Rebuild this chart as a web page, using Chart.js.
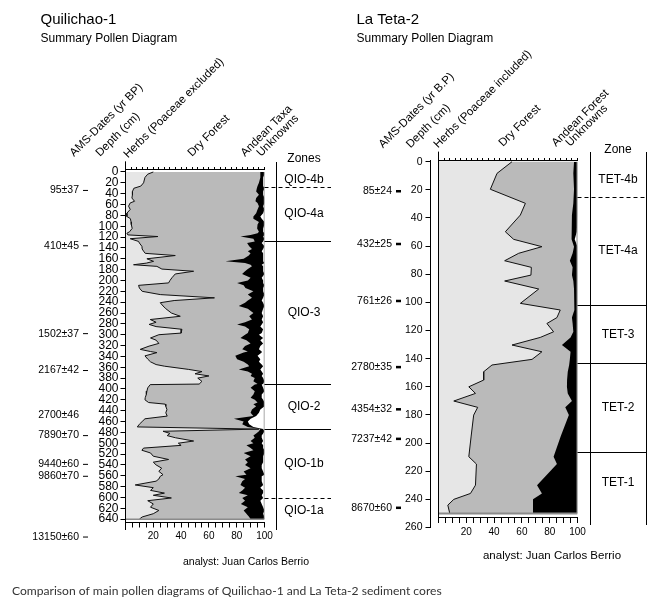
<!DOCTYPE html>
<html><head><meta charset="utf-8">
<script src="https://cdn.jsdelivr.net/npm/chart.js@4"></script>
<style>
html,body{margin:0;padding:0;background:#fff;}
#wrap{position:relative;width:666px;height:605px;overflow:hidden;}
canvas{position:absolute;left:0;top:0;}
</style></head><body>
<div id="wrap">
<canvas id="cL" width="666" height="605" style="width:666px;height:605px"></canvas>
<canvas id="cR" width="666" height="605" style="width:666px;height:605px"></canvas>
</div>
<script>
// ---------------- DATA: Quilichao-1 ----------------
const qDepth = [0,4,10,20,26,30,36,42,48,54,
57,63,69,76,82,86,92,97,104,110,
113,116,119,123,128,131,137,142,146,150,
154,160,164.7,168,171,174,179,183,188,195,
200,204.5,209,214,220,226,232,237,241,247,
252,260,266,272,277,281,285,290,297,300,
306,310,316,321,327,331,333,339,345,350,
355,358,364,368,372,376,380,386,391,392,
398,404,410,416,420,425,428,432,438,444,
450,455,460,465,470,474,478,482,486,490,
496,500,504,509,513,518,524,530,535,540,
546,552,558,561,566,570,577,582,587,592,
596,601,606,612,618,624,630,636,640];
const qHerbs = [20,16,14,13,11,6,5,5,4.6,6.5,
3.4,2.2,3.4,1,1,3.5,4,4.2,4.8,3,
1,1.7,23.3,3.4,9.4,10,11.8,12,13,14.2,
35.8,15.4,20.2,15,5.8,22.6,26.2,49,35.8,33.4,
32,31,9.4,10,12,25,64,35,25,27,
29,33,39.4,17.8,22,17,22,40.6,40,24,
18,22,24,17,10.6,18,22.6,14,16,18,
22,28,45.5,55,50,60,52,55,53,17.8,
16,15.4,15,14.2,14,16.6,28.6,29,29.8,29,
30,14,12,10,8.5,96,27,32,30,36,
49,38,40,13,11.8,18,20,31,20,22,
26,24,27,25,24,22,7,20,18,28,
20,33,16,20,18,24,20,12,10];
const qDryForest = [77,81,83,83,84,88.5,89,91,89.4,87,
91.6,93.8,91.6,93,91,88.5,92,90.8,89.9,93,
94,88.3,59.4,88.6,83.6,77.5,77.2,79,75,75.8,
52.9,69.6,51.7,71,84.2,68.4,61.8,37,48.1,56.6,
56,49.3,75.6,76.3,80,63,27,53,61,54.5,
59,59,49.6,73.2,64,63.3,64,48.4,48,62,
64.7,65,66,69,73.4,70,62.4,65,64.3,67,
66,61,36,33,41,30,41,37,42,75.2,
74,77.6,77,75.8,79,78.4,63.4,65,61.2,61,
62,64,73,74,79.5,1,69,62,62,57,
41,54,47,77,80.2,67,70,55,68,64,
64,61,60,54,62,62,75.7,66,66,53.5,
68,51,70,63,70,61,67,77,80];
const qAndean = [3,3,2,3,4,5.5,5,3,6,6.5,
5,3,5,5,5,6,4,5,4.3,3,
5,10,16.3,8,6,10.5,11,8,10,9,
10.3,14,27.1,14,8,8,11,13,16.1,8,
11,18.7,15,12.7,7,12,8,10,13,18.5,
11,6,10,7,13,17.7,11,10,10,10,
16.3,10,9,11,12,10,13,16,16.7,11,
10,10,15.5,10,8,8,6,8,4,5,
9,7,6,8,6,5,8,6,6,6,
2,12,3,5,4,2,4,5,6,5,
9,6,12,9,8,15,9,13,11,12,
8,14,13,19,12,14,16.3,11,15,17.5,
10,15,11,15,11,15,12,11,10];
const qZoneBounds = [28.2,127.1,391.2,474.1,601.2];
const qZoneDashed = [true,false,false,false,true];
const qZoneNames = ['QIO-4b','QIO-4a','QIO-3','QIO-2','QIO-1b','QIO-1a'];
const qDates = ['95±37','410±45','1502±37','2167±42','2700±46','7890±70','9440±60','9860±70','13150±60'];
const qDateDepths = [34,136,298,366,449,486,539,561,673];
const qDateMarked = [true,true,true,true,false,true,true,true,true];
const qDepthTicks = [0,20,40,60,80,100,120,140,160,180,200,220,240,260,280,300,320,340,360,380,400,420,440,460,480,500,520,540,560,580,600,620,640];
const qHeaders = ['AMS-Dates (yr BP)','Depth (cm)','Herbs (Poaceae excluded)','Dry Forest','Andean Taxa','Unknowns'];

// ---------------- DATA: La Teta-2 ----------------
const tDepth = [0,8.3,19.6,29.6,37.9,49.8,55.2,60.4,65.1,70.4,75.1,80.6,84.8,90.5,100.7,105.4,110.8,115,120.9,124.9,130.3,135.1,140.5,144.5,149.3,155.2,160,164.7,170.1,174.6,180.1,195,209.7,214.9,229.9,235.8,240,244.1,250];
const tHerbs = [52.9,42.1,37.3,62.5,58.9,48.1,54.1,74.4,57.7,47.6,66.8,66.5,47.6,72.1,58.9,87.6,85.2,78,82.8,73.2,52.9,74.4,67.3,38.5,32.5,32.5,21.8,26.6,11,28.2,25.3,23.5,21.8,27.3,26.6,23,11,6.7,8.1];
const tDryForest = [44.6,54.9,60.2,34.5,37.1,47.4,41.9,23.1,38.8,46.9,29.7,29.5,49.4,25.4,39.1,9.9,10.8,18.5,14.2,21.8,35.9,20.6,27.2,55.5,60.5,60,70.6,66.4,85,63,68.5,64.5,61,57.9,44.3,51.4,57,61.3,59.9];
const tAndean = [2.5,3,2.5,3,4,4,2,2.5,3.5,5.5,3.5,4,3,2.5,2,2.5,4,3.5,3,5,11.2,5,5.5,6,7,7.5,7.6,7,4,8.8,6.2,12,17.2,14.8,29.1,25.6,32,32,32];
const tZoneBounds = [25.3,101.9,143.4,206.2];
const tZoneDashed = [true,false,false,false];
const tZoneNames = ['TET-4b','TET-4a','TET-3','TET-2','TET-1'];
const tDates = ['85±24','432±25','761±26','2780±35','4354±32','7237±42','8670±60'];
const tDateDepths = [21,58.5,99,146,176,197,246];
const tDateMarked = [true,true,true,true,true,true,true];
const tDepthTicks = [0,20,40,60,80,100,120,140,160,180,200,220,240,260];
const tHeaders = ['AMS-Dates (yr B.P)','Depth (cm)','Herbs (Poaceae included)','Dry Forest','Andean Forest','Unknowns'];

// ---------------- shared ticks ----------------
const pctTicks = [0,5,10,15,20,25,30,35,40,45,50,55,60,65,70,75,80,85,90,95,100];
const pctLabels = [20,40,60,80,100];
const topTicks = [0,4,8,12,16,20,24,28,32,36,40,44,48,52,56,60,64,68,72,76,80,84,88,92,96,100];

Chart.defaults.font.family = "'Liberation Sans', Arial, Helvetica, sans-serif";
Chart.defaults.color = '#000';

function edges(h, d, a) {
  const e1 = h.slice();
  const e2 = h.map((v, i) => v + d[i]);
  const e3 = e2.map((v, i) => v + a[i]);
  return [e1, e2, e3];
}
function pts(depth, vals) { return depth.map((d, i) => ({x: vals[i], y: d})); }

function profileDatasets(depth, h, d, a, bottomDepth, extTop, extBottom, frameW) {
  const [e1, e2, e3] = edges(h, d, a);
  return [
    {label: 'Herbs', data: pts(depth, e1), fill: 'origin', backgroundColor: '#e6e6e6', borderColor: '#111', borderWidth: 1},
    {label: 'Dry Forest', data: pts(depth, e2), fill: 'origin', backgroundColor: '#bababa', borderColor: 'rgba(0,0,0,0)', borderWidth: 1},
    {label: 'Andean', data: pts(depth, e3), fill: 'origin', backgroundColor: '#000', borderColor: 'rgba(0,0,0,0)', borderWidth: 1},
    {label: 'edgeR', data: [{x: 100, y: depth[0]}, {x: 100, y: bottomDepth}], borderColor: '#8a8a8a', borderWidth: frameW, fill: false, order: -1},
    {label: 'edgeB', data: [{x: 0, y: bottomDepth}, {x: 100, y: bottomDepth}], borderColor: '#8a8a8a', borderWidth: frameW, fill: false, order: -1},
    {label: 'edgeL', data: [{x: 0, y: extTop}, {x: 0, y: extBottom}], borderColor: '#000', borderWidth: 1, fill: false, clip: false, order: -2}
  ];
}

function setTicks(arr) { return s => { s.ticks = arr.map(v => ({value: v})); }; }

function drawPanel(chart, P) {
  const ctx = chart.ctx, ys = chart.scales.y;
  const px = v => ys.getPixelForValue(v);
  ctx.save();
  ctx.fillStyle = '#000';
  ctx.strokeStyle = '#000';
  ctx.textAlign = 'left'; ctx.textBaseline = 'alphabetic';
  ctx.font = "15px 'Liberation Sans', Arial, sans-serif";
  ctx.fillText(P.title, P.titleX, 23.5);
  ctx.font = "12px 'Liberation Sans', Arial, sans-serif";
  ctx.fillText('Summary Pollen Diagram', P.titleX, 42);
  ctx.font = "11.5px 'Liberation Sans', Arial, sans-serif";
  P.headers.forEach((s, i) => {
    const [x, y] = P.headerPos[i];
    ctx.save(); ctx.translate(x, y); ctx.rotate(-Math.PI / 4); ctx.fillText(s, 0, 0); ctx.restore();
  });
  ctx.lineWidth = 1; ctx.setLineDash([]);
  P.colLines.forEach(x => { ctx.beginPath(); ctx.moveTo(x, P.colTop); ctx.lineTo(x, P.colBottom); ctx.stroke(); });
  P.zoneBounds.forEach((b, i) => {
    const y = Math.round(px(b)) + 0.5;
    ctx.setLineDash(P.zoneDashed[i] ? [4, 3] : []);
    ctx.beginPath(); ctx.moveTo(P.zoneX0, y); ctx.lineTo(P.zoneX1, y); ctx.stroke();
  });
  ctx.setLineDash([]);
  ctx.font = "12px 'Liberation Sans', Arial, sans-serif";
  ctx.textAlign = 'center'; ctx.textBaseline = 'middle';
  ctx.fillText(P.zoneHeader, P.zoneLabelX, P.zoneHeaderY);
  const e = [0].concat(P.zoneBounds, [P.zoneBottom]);
  P.zoneNames.forEach((n, i) => {
    ctx.fillText(n, P.zoneLabelX, (px(e[i]) + px(e[i + 1])) / 2);
  });
  ctx.font = "10.5px 'Liberation Sans', Arial, sans-serif";
  ctx.textAlign = 'right'; ctx.textBaseline = 'middle';
  P.dates.forEach((s, i) => {
    const y = px(P.dateDepths[i]);
    ctx.fillText(s, P.dateRight, y);
    if (P.dateMarked[i]) ctx.fillRect(P.dashX0, y - P.dashH / 2, P.dashX1 - P.dashX0, P.dashH);
  });
  ctx.textAlign = 'center'; ctx.textBaseline = 'alphabetic';
  ctx.font = P.analystFont;
  ctx.fillText('analyst: Juan Carlos Berrio', P.analystX, P.analystY);
  if (P.caption) {
    ctx.textAlign = 'left';
    ctx.fillStyle = '#333';
    ctx.font = "12.1px Lato, 'Open Sans', sans-serif";
    ctx.fillText(P.caption, 12, 595);
  }
  ctx.restore();
}

const leftP = {
  title: 'Quilichao-1', titleX: 40.5, headers: qHeaders,
  headerPos: [[74, 157], [100, 157], [128, 158.5], [192, 157], [245, 157], [261, 157]],
  colLines: [276.5], colTop: 162, colBottom: 530,
  zoneBounds: qZoneBounds, zoneDashed: qZoneDashed, zoneNames: qZoneNames,
  zoneX0: 264.5, zoneX1: 331, zoneLabelX: 304, zoneHeader: 'Zones', zoneHeaderY: 159, zoneBottom: 646,
  dates: qDates, dateDepths: qDateDepths, dateMarked: qDateMarked,
  dateRight: 79, dashX0: 83, dashX1: 88, dashH: 1,
  analystFont: "10.5px 'Liberation Sans', Arial, sans-serif", analystX: 246, analystY: 565,
  caption: 'Comparison of main pollen diagrams of Quilichao-1 and La Teta-2 sediment cores'
};
const rightP = {
  title: 'La Teta-2', titleX: 356.5, headers: tHeaders,
  headerPos: [[383, 148.5], [410.5, 148.5], [438, 148.5], [503, 147], [556, 147], [570, 147]],
  colLines: [590.5, 646.5], colTop: 152, colBottom: 525,
  zoneBounds: tZoneBounds, zoneDashed: tZoneDashed, zoneNames: tZoneNames,
  zoneX0: 577.5, zoneX1: 646.5, zoneLabelX: 618, zoneHeader: 'Zone', zoneHeaderY: 150, zoneBottom: 250,
  dates: tDates, dateDepths: tDateDepths, dateMarked: tDateMarked,
  dateRight: 392, dashX0: 396, dashX1: 401, dashH: 2.5,
  analystFont: "11.5px 'Liberation Sans', Arial, sans-serif", analystX: 552, analystY: 559,
  caption: null
};

const axisCommon = {
  grid: {drawOnChartArea: false, color: '#000', lineWidth: 1},
  border: {color: '#000', width: 1}
};

new Chart(document.getElementById('cL'), {
  type: 'line',
  data: {datasets: profileDatasets(qDepth, qHerbs, qDryForest, qAndean, 640, -19, 660, 1.5)},
  options: {
    responsive: false, animation: false, indexAxis: 'y',
    elements: {point: {radius: 0}, line: {tension: 0}},
    layout: {padding: {left: 0, right: 401.5, top: 159.5, bottom: 62.5}},
    plugins: {legend: {display: false}, tooltip: {enabled: false}},
    scales: {
      y: {type: 'linear', reverse: true, min: -4.6, max: 646.2, position: 'left',
        afterBuildTicks: setTicks(qDepthTicks), afterFit: s => { s.width = 125.5; },
        ticks: {autoSkip: false, font: {size: 12}, padding: 2},
        grid: Object.assign({}, axisCommon.grid, {tickLength: 5}), border: axisCommon.border},
      x: {type: 'linear', min: 0, max: 100, position: 'bottom',
        afterBuildTicks: setTicks(pctTicks), afterFit: s => { s.height = 20; },
        ticks: {autoSkip: false, maxRotation: 0, minRotation: 0, font: {size: 10}, padding: 3,
          callback: v => pctLabels.includes(v) ? String(v) : ''},
        grid: Object.assign({}, axisCommon.grid, {tickLength: 5}), border: axisCommon.border},
      xTop: {type: 'linear', min: 0, max: 100, position: 'top',
        afterBuildTicks: setTicks(topTicks), afterFit: s => { s.height = 10; },
        ticks: {display: false},
        grid: Object.assign({}, axisCommon.grid, {tickLength: 2.5}), border: axisCommon.border}
    }
  },
  plugins: [{id: 'leftDecor', afterDraw: c => drawPanel(c, leftP)}]
});

new Chart(document.getElementById('cR'), {
  type: 'line',
  data: {datasets: profileDatasets(tDepth, tHerbs, tDryForest, tAndean, 250, -7, 256.5, 2)},
  options: {
    responsive: false, animation: false, indexAxis: 'y',
    elements: {point: {radius: 0}, line: {tension: 0}},
    layout: {padding: {left: 0, right: 88.5, top: 150.5, bottom: 77.5}},
    plugins: {legend: {display: false}, tooltip: {enabled: false}},
    scales: {
      y: {type: 'linear', reverse: true, min: -0.85, max: 260, position: 'left', weight: 10,
        afterBuildTicks: setTicks(tDepthTicks), afterFit: s => { s.width = 430.5; },
        ticks: {autoSkip: false, font: {size: 10.5}, padding: 3},
        grid: Object.assign({}, axisCommon.grid, {tickLength: 5}), border: axisCommon.border},
      ySpacer: {type: 'linear', position: 'left', weight: 0, min: 0, max: 1,
        afterFit: s => { s.width = 8; },
        ticks: {display: false}, grid: {display: false}, border: {display: false}},
      x: {type: 'linear', min: 0, max: 100, position: {y: 253.1},
        afterBuildTicks: setTicks(pctTicks),
        ticks: {autoSkip: false, maxRotation: 0, minRotation: 0, font: {size: 10}, padding: 3,
          callback: v => pctLabels.includes(v) ? String(v) : ''},
        grid: Object.assign({}, axisCommon.grid, {tickLength: 5}), border: axisCommon.border},
      xTop: {type: 'linear', min: 0, max: 100, position: 'top',
        afterBuildTicks: setTicks(topTicks), afterFit: s => { s.height = 10; },
        ticks: {display: false},
        grid: Object.assign({}, axisCommon.grid, {tickLength: 2.5}), border: axisCommon.border}
    }
  },
  plugins: [{id: 'rightDecor', afterDraw: c => drawPanel(c, rightP)}]
});
</script>
</body></html>
